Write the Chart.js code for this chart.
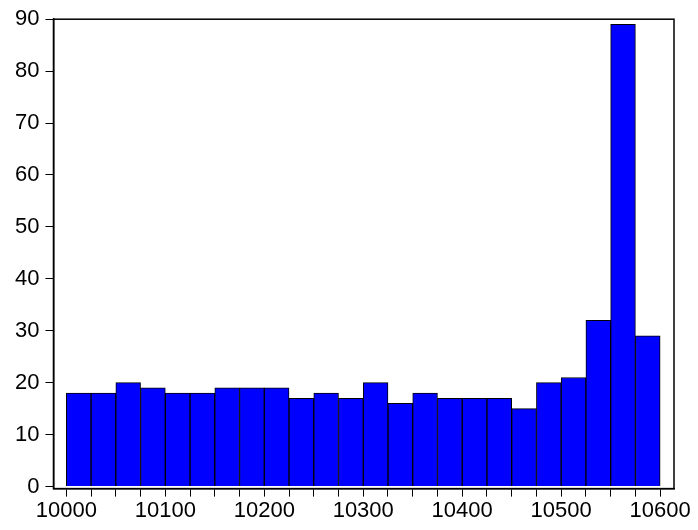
<!DOCTYPE html>
<html>
<head>
<meta charset="utf-8">
<script src="https://cdn.jsdelivr.net/npm/chart.js@4/dist/chart.umd.min.js"></script>
<style>
    html, body { margin: 0; padding: 0; background: #fff; }
    #wrap { width: 698px; height: 530px; position: relative; }
</style>
</head>
<body>
<div id="wrap"><canvas id="hist"></canvas></div>
<script>
// histogram bins (start of each bin, width 25)
const binStarts = [10000, 10025, 10050, 10075, 10100, 10125, 10150, 10175, 10200, 10225, 10250, 10275,
                   10300, 10325, 10350, 10375, 10400, 10425, 10450, 10475, 10500, 10525, 10550, 10575];
const binWidth = 25;
const counts = [18, 18, 20, 19, 18, 18, 19, 19, 19, 17, 18, 17,
                20, 16, 18, 17, 17, 17, 15, 20, 21, 32, 89, 29];
const xTickValues = [10000, 10100, 10200, 10300, 10400, 10500, 10600];
const yTickValues = [0, 10, 20, 30, 40, 50, 60, 70, 80, 90];

const points = binStarts.map((s, i) => ({ x: s + binWidth / 2, y: counts[i] }));

// full box around the plot area
const frameBox = {
    id: 'frameBox',
    afterDatasetsDraw(chart) {
        const a = chart.chartArea;
        const ctx = chart.ctx;
        ctx.save();
        ctx.strokeStyle = '#000';
        ctx.lineWidth = 1.5;
        ctx.strokeRect(a.left, a.top, a.right - a.left, a.bottom - a.top);
        ctx.restore();
    }
};

const axisFont = { family: 'Liberation Sans, Arial', size: 22 };

new Chart(document.getElementById('hist').getContext('2d'), {
    type: 'bar',
    data: {
        datasets: [{
            data: points,
            backgroundColor: '#0000ff',
            borderColor: '#000',
            borderWidth: 1,
            barPercentage: 1,
            categoryPercentage: 1
        }]
    },
    options: {
        responsive: true,
        maintainAspectRatio: false,
        animation: false,
        layout: { padding: { top: 18, right: 24, left: 9, bottom: 5 } },
        scales: {
            x: {
                type: 'linear',
                offset: false,
                min: 9987,
                max: 10614,
                afterBuildTicks: axis => {
                    axis.ticks = binStarts.concat([10600]).map(v => ({ value: v }));
                },
                ticks: {
                    autoSkip: false,
                    maxRotation: 0,
                    color: '#000',
                    font: axisFont,
                    padding: 1,
                    callback: v => xTickValues.includes(v) ? String(v) : ''
                },
                grid: {
                    offset: false,
                    drawOnChartArea: false,
                    drawTicks: true,
                    tickLength: 8,
                    color: '#000',
                    lineWidth: 1
                },
                border: { display: true, color: '#000', width: 1.5 }
            },
            y: {
                min: -0.4,
                max: 90,
                afterBuildTicks: axis => {
                    axis.ticks = yTickValues.map(v => ({ value: v }));
                },
                ticks: {
                    color: '#000',
                    font: axisFont,
                    padding: 6
                },
                grid: {
                    drawOnChartArea: false,
                    drawTicks: true,
                    tickLength: 8,
                    color: '#000',
                    lineWidth: 1
                },
                border: { display: true, color: '#000', width: 1.5 }
            }
        },
        plugins: {
            legend: { display: false },
            tooltip: { enabled: false }
        }
    },
    plugins: [frameBox]
});
</script>
</body>
</html>
